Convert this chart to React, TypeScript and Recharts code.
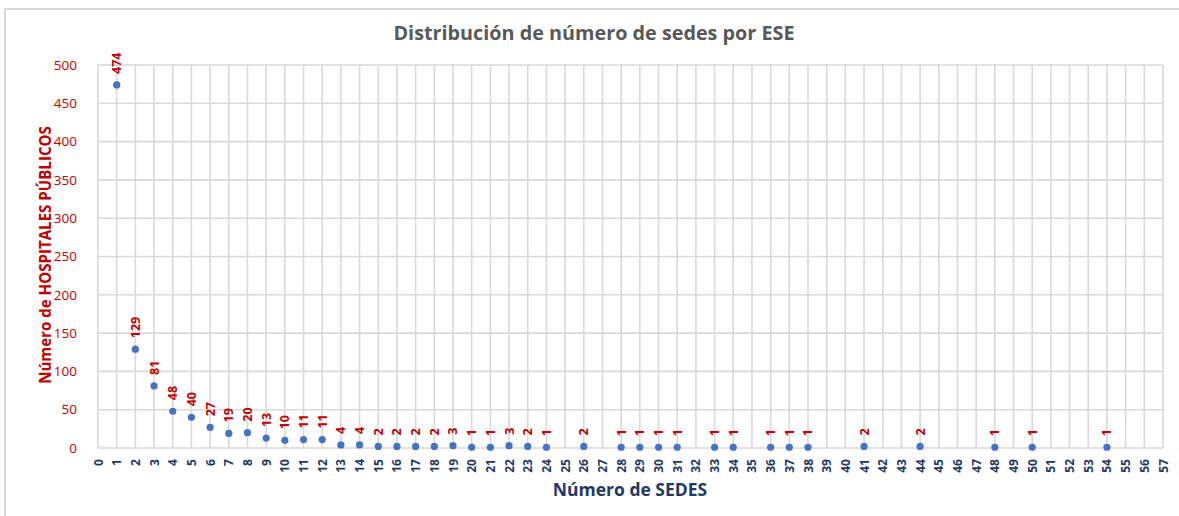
import React from 'react';
import { ScatterChart, Scatter, XAxis, YAxis, CartesianGrid } from 'recharts';

const sedes = [1, 2, 3, 4, 5, 6, 7, 8, 9, 10, 11, 12, 13, 14, 15, 16, 17, 18, 19, 20, 21, 22, 23, 24, 26, 28, 29, 30, 31, 33, 34, 36, 37, 38, 41, 44, 48, 50, 54];
const hospitales = [474, 129, 81, 48, 40, 27, 19, 20, 13, 10, 11, 11, 4, 4, 2, 2, 2, 2, 3, 1, 1, 3, 2, 1, 2, 1, 1, 1, 1, 1, 1, 1, 1, 1, 2, 2, 1, 1, 1];
const xTicks = Array.from({ length: 58 }, (_, i) => i);
const yTicks = [0, 50, 100, 150, 200, 250, 300, 350, 400, 450, 500];

const title = 'Distribución de número de sedes por ESE';
const yLabel = 'Número de HOSPITALES PÚBLICOS';
const xLabel = 'Número de SEDES';

const data = sedes.map((s, i) => ({ x: s, y: hospitales[i] }));

const FONT = '"Open Sans", "Noto Sans", sans-serif';
const RED = '#C00000';
const NAVY = '#1F3864';

const PointShape = (props: any) => {
  const { cx, cy, payload } = props;
  const ly = cy - 11;
  return (
    <g>
      <circle cx={cx} cy={cy} r={3.6} fill="#4472C4" />
      <text
        x={cx}
        y={ly}
        transform={`rotate(-90 ${cx} ${ly})`}
        textAnchor="start"
        dominantBaseline="central"
        fill={RED}
        fontSize={12.5}
        fontWeight={700}
        fontFamily={FONT}
      >
        {payload.y}
      </text>
    </g>
  );
};

const XTick = (props: any) => {
  const { x, y, payload } = props;
  const ty = y + 3;
  return (
    <text
      x={x}
      y={ty}
      transform={`rotate(-90 ${x} ${ty})`}
      textAnchor="end"
      dominantBaseline="central"
      fill={NAVY}
      fontSize={12}
      fontWeight={700}
      fontFamily={FONT}
    >
      {payload.value}
    </text>
  );
};

export default function App() {
  return (
    <div style={{ position: 'absolute', left: 0, top: 0, width: 1179, height: 516, background: '#fff', overflow: 'hidden' }}>
      <div style={{ position: 'absolute', left: 4, top: 8, width: 1300, height: 600, borderLeft: '2px solid #D9D9D9', borderTop: '2px solid #D9D9D9' }} />
      <ScatterChart width={1179} height={516} margin={{ top: 65, right: 16, bottom: 0, left: 0 }} style={{ position: 'absolute', left: 0, top: 0 }}>
        <CartesianGrid stroke="#D9D9D9" strokeWidth={1.6} />
        <XAxis
          type="number"
          dataKey="x"
          domain={[0, 57]}
          ticks={xTicks}
          interval={0}
          axisLine={false}
          tickLine={false}
          height={68}
          tick={<XTick />}
        />
        <YAxis
          type="number"
          dataKey="y"
          domain={[0, 500]}
          ticks={yTicks}
          interval={0}
          axisLine={false}
          tickLine={false}
          width={98}
          tickMargin={15}
          tick={{ fill: RED, fontSize: 13.5, fontFamily: FONT }}
        />
        <Scatter data={data} isAnimationActive={false} shape={<PointShape />} />
      </ScatterChart>
      <div style={{ position: 'absolute', left: 594, top: 33, transform: 'translate(-50%, -50%)', whiteSpace: 'nowrap', fontFamily: FONT, fontWeight: 700, fontSize: 19.8, color: '#595959', lineHeight: '26px' }}>
        {title}
      </div>
      <div style={{ position: 'absolute', left: 45, top: 255, transform: 'translate(-50%, -50%) rotate(-90deg)', whiteSpace: 'nowrap', fontFamily: FONT, fontWeight: 700, fontSize: 15.1, color: RED, lineHeight: '22px' }}>
        {yLabel}
      </div>
      <div style={{ position: 'absolute', left: 630, top: 489, transform: 'translate(-50%, -50%)', whiteSpace: 'nowrap', fontFamily: FONT, fontWeight: 700, fontSize: 17.5, color: NAVY, lineHeight: '22px' }}>
        {xLabel}
      </div>
    </div>
  );
}
